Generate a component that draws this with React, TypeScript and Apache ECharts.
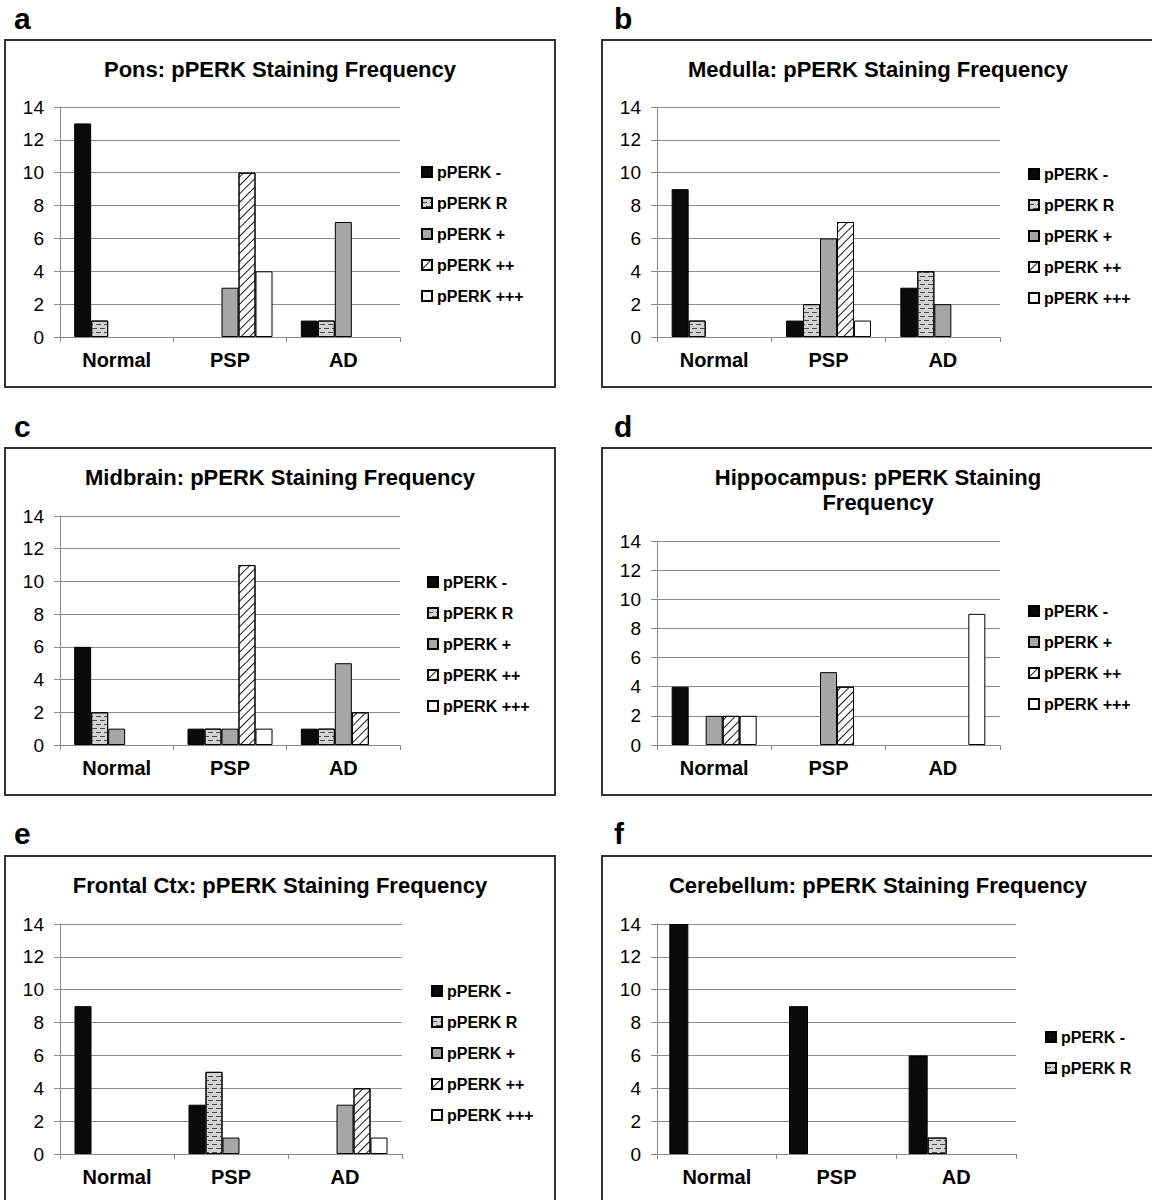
import React, { useEffect, useRef } from 'react';
import * as echarts from 'echarts';

// ---------- data ----------
const categories = ['Normal', 'PSP', 'AD'];
const seriesNames = ['pPERK -', 'pPERK R', 'pPERK +', 'pPERK ++', 'pPERK +++'];
const yMin = 0;
const yMax = 14;
const yStep = 2;

// each row: one series (pPERK -, R, +, ++, +++), values for Normal, PSP, AD
const ponsData = [
  [13, 0, 1],
  [1, 0, 1],
  [0, 3, 7],
  [0, 10, 0],
  [0, 4, 0],
];
const medullaData = [
  [9, 1, 3],
  [1, 2, 4],
  [0, 6, 2],
  [0, 7, 0],
  [0, 1, 0],
];
const midbrainData = [
  [6, 1, 1],
  [2, 1, 1],
  [1, 1, 5],
  [0, 11, 2],
  [0, 1, 0],
];
const hippocampusData = [
  [4, 0, 0],
  [0, 0, 0],
  [2, 5, 0],
  [2, 4, 0],
  [2, 0, 9],
];
const frontalData = [
  [9, 3, 0],
  [0, 5, 0],
  [0, 1, 3],
  [0, 0, 4],
  [0, 0, 1],
];
const cerebellumData = [
  [14, 9, 6],
  [0, 0, 1],
  [0, 0, 0],
  [0, 0, 0],
  [0, 0, 0],
];

const panelLetters = ['a', 'b', 'c', 'd', 'e', 'f'];
const panelTitles = [
  'Pons: pPERK Staining Frequency',
  'Medulla: pPERK Staining Frequency',
  'Midbrain: pPERK Staining Frequency',
  'Hippocampus: pPERK Staining\nFrequency',
  'Frontal Ctx: pPERK Staining Frequency',
  'Cerebellum: pPERK Staining Frequency',
];
const panelData = [ponsData, medullaData, midbrainData, hippocampusData, frontalData, cerebellumData];
const legendShown = [
  seriesNames,
  seriesNames,
  seriesNames,
  ['pPERK -', 'pPERK +', 'pPERK ++', 'pPERK +++'],
  seriesNames,
  ['pPERK -', 'pPERK R'],
];

// ---------- layout / style ----------
const FONT = '"Liberation Sans", Arial, Helvetica, sans-serif';

const layouts = [
  { box: [5, 40, 550, 347], letter: [14, 18], title: [280, 69], grid: [60, 107, 340, 230], legend: [421, 164], barW: 17 },
  { box: [602, 40, 552, 347], letter: [614, 18], title: [878, 69], grid: [657, 107, 343, 230], legend: [1028, 166], barW: 17 },
  { box: [5, 448, 550, 347], letter: [14, 426], title: [280, 477], grid: [60, 516, 340, 229], legend: [427, 574], barW: 17 },
  { box: [602, 448, 552, 347], letter: [614, 426], title: [878, 490], grid: [657, 541, 343, 204], legend: [1028, 603], barW: 17 },
  { box: [5, 856, 550, 360], letter: [14, 833], title: [280, 885], grid: [60, 924, 342, 230], legend: [431, 983], barW: 17 },
  { box: [602, 856, 552, 360], letter: [614, 833], title: [878, 885], grid: [657, 924, 359, 230], legend: [1045, 1029], barW: 19 },
];

const decalR = {
  symbol: 'rect',
  symbolSize: 1,
  color: '#4a4a4a',
  dashArrayX: [[5, 3], [1, 3, 4, 0]],
  dashArrayY: [1, 3],
  rotation: 0,
};
const decalHatch = {
  symbol: 'rect',
  symbolSize: 1,
  color: '#1a1a1a',
  dashArrayX: [1, 0],
  dashArrayY: [1, 5],
  rotation: -Math.PI / 4,
};
const seriesStyles: any[] = [
  { color: '#0a0a0a' },
  { color: '#d4d4d4', decal: decalR },
  { color: '#a6a6a6' },
  { color: '#ffffff', decal: decalHatch },
  { color: '#ffffff' },
];

function buildOption() {
  const grid: any[] = [];
  const xAxis: any[] = [];
  const yAxis: any[] = [];
  const series: any[] = [];
  const legend: any[] = [];
  const graphic: any[] = [];

  layouts.forEach((L, p) => {
    grid.push({ left: L.grid[0], top: L.grid[1], width: L.grid[2], height: L.grid[3], containLabel: false });
    xAxis.push({
      type: 'category',
      gridIndex: p,
      data: categories,
      axisLine: { show: true, lineStyle: { color: '#8a8a8a', width: 1 } },
      axisTick: { show: true, length: 5, lineStyle: { color: '#8a8a8a' } },
      axisLabel: { color: '#000', fontSize: 20, fontWeight: 'bold', fontFamily: FONT, margin: 13 },
      splitLine: { show: false },
    });
    yAxis.push({
      type: 'value',
      gridIndex: p,
      min: yMin,
      max: yMax,
      interval: yStep,
      axisLine: { show: true, lineStyle: { color: '#8a8a8a', width: 1 } },
      axisTick: { show: true, length: 6, lineStyle: { color: '#8a8a8a' } },
      axisLabel: { color: '#000', fontSize: 19, fontFamily: FONT, margin: 16 },
      splitLine: { show: true, lineStyle: { color: '#8c8c8c', width: 1 } },
    });
    panelData[p].forEach((vals, s) => {
      series.push({
        type: 'bar',
        name: seriesNames[s],
        xAxisIndex: p,
        yAxisIndex: p,
        data: vals.map((v) => (v === 0 ? null : v)),
        barWidth: L.barW,
        barGap: '0%',
        itemStyle: { ...seriesStyles[s], borderColor: '#000', borderWidth: 1 },
        emphasis: { disabled: true },
      });
    });
    legend.push({
      data: legendShown[p],
      orient: 'vertical',
      left: L.legend[0],
      top: L.legend[1],
      padding: 0,
      itemWidth: 10,
      itemHeight: 10,
      itemGap: 15,
      icon: 'rect',
      selectedMode: false,
      textStyle: { color: '#000', fontSize: 16, fontWeight: 'bold', fontFamily: FONT, lineHeight: 16 },
    });
    graphic.push({
      type: 'rect',
      shape: { x: L.box[0], y: L.box[1], width: L.box[2], height: L.box[3] },
      style: { fill: 'none', stroke: '#333', lineWidth: 2 },
      silent: true,
    });
    graphic.push({
      type: 'text',
      x: L.letter[0],
      y: L.letter[1],
      style: {
        text: panelLetters[p],
        fill: '#000',
        font: `bold 30px ${FONT}`,
        textAlign: 'left',
        textVerticalAlign: 'middle',
        align: 'left',
        verticalAlign: 'middle',
      },
      silent: true,
    });
    graphic.push({
      type: 'text',
      x: L.title[0],
      y: L.title[1],
      style: {
        text: panelTitles[p],
        fill: '#000',
        font: `bold 22px ${FONT}`,
        lineHeight: 25,
        textAlign: 'center',
        textVerticalAlign: 'middle',
        align: 'center',
        verticalAlign: 'middle',
      },
      silent: true,
    });
  });

  return {
    animation: false,
    backgroundColor: '#fff',
    grid,
    xAxis,
    yAxis,
    series,
    legend,
    graphic,
  };
}

export default function App() {
  const ref = useRef<HTMLDivElement>(null);
  useEffect(() => {
    if (!ref.current) return;
    const chart = echarts.init(ref.current, null, { renderer: 'svg' });
    chart.setOption(buildOption() as any);
    return () => chart.dispose();
  }, []);
  return <div ref={ref} style={{ position: 'absolute', left: 0, top: 0, width: 1152, height: 1200 }} />;
}
